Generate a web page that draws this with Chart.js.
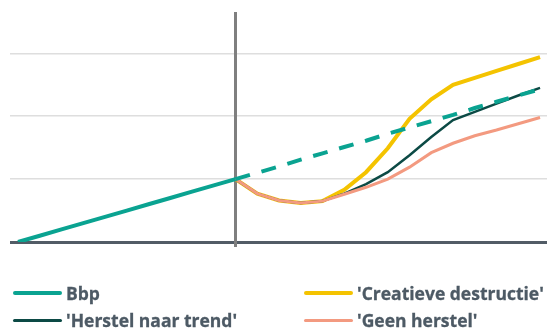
<!DOCTYPE html>
<html>
<head>
<meta charset="utf-8">
<script src="https://cdn.jsdelivr.net/npm/chart.js@4"></script>
<style>
  html, body { margin: 0; padding: 0; background: #fff; }
  #wrap { position: absolute; left: 0; top: 0; width: 547px; height: 260px; }
  .legend { position: absolute; left: 0; top: 0; width: 547px; height: 328px; pointer-events: none;
            font-family: "Open Sans", "Noto Sans", sans-serif; font-weight: 700; font-size: 17.5px; color: #4d5a65;
            -webkit-text-stroke: 0.3px #4d5a65; }
  .item { position: absolute; display: flex; align-items: center; white-space: nowrap; }
  .swatch { display: inline-block; width: 49px; border-radius: 2px; margin-right: 4px; }
</style>
</head>
<body>
<div id="wrap"><canvas id="chart"></canvas></div>
<div class="legend" id="legend"></div>
<script>
// periods on the x axis (index 10 = crisis moment)
const periods = [0, 1, 2, 3, 4, 5, 6, 7, 8, 9, 10, 11, 12, 13, 14, 15, 16, 17, 18, 19, 20, 21, 22, 23, 24];
const crisisIndex = 10;

// realised gdp up to the crisis, then the trend path
const bbp = [0, 0.1, 0.2, 0.3, 0.4, 0.5, 0.6, 0.7, 0.8, 0.9, 1.0];
const bbpTrend = [1.10, 1.20, 1.31, 1.41, 1.51, 1.61, 1.72, 1.82, 1.92, 2.02, 2.13, 2.23, 2.33, 2.43];

// scenarios, from the crisis onwards
const creatieveDestructie = [1.0, 0.77, 0.66, 0.62, 0.65, 0.83, 1.11, 1.49, 1.96, 2.27, 2.50, 2.61, 2.72, 2.83, 2.94];
const herstelNaarTrend   = [1.0, 0.77, 0.66, 0.62, 0.65, 0.77, 0.92, 1.11, 1.38, 1.67, 1.94, 2.07, 2.20, 2.33, 2.45];
const geenHerstel        = [1.0, 0.77, 0.66, 0.62, 0.65, 0.76, 0.87, 1.00, 1.19, 1.42, 1.57, 1.69, 1.78, 1.88, 1.98];

const yGridValues = [1, 2, 3];

const colors = {
  bbp: "#0aa391",
  creatief: "#f4c300",
  trend: "#0c4a45",
  geen: "#f39a80"
};

function toPoints(values, start) {
  return values.map((v, i) => ({ x: periods[start + i], y: v }));
}

const bbpPoints = toPoints(bbp.concat(bbpTrend), 0);

// grey marker line at the crisis moment
const crisisLine = {
  id: "crisisLine",
  beforeDatasetsDraw(chart) {
    const { ctx, chartArea, scales } = chart;
    const x = scales.x.getPixelForValue(periods[crisisIndex]);
    ctx.save();
    ctx.strokeStyle = "#7f7f7f";
    ctx.lineWidth = 3;
    ctx.beginPath();
    ctx.moveTo(x, chartArea.top);
    ctx.lineTo(x, chartArea.bottom + 5);
    ctx.stroke();
    ctx.restore();
  }
};

new Chart(document.getElementById("chart"), {
  type: "line",
  data: {
    datasets: [
      {
        label: "Bbp",
        data: bbpPoints,
        borderColor: colors.bbp,
        borderWidth: 4,
        segment: {
          borderDash: ctx => ctx.p0DataIndex >= crisisIndex ? [15, 12] : undefined
        },
        order: 0
      },
      {
        label: "'Creatieve destructie'",
        data: toPoints(creatieveDestructie, crisisIndex),
        borderColor: colors.creatief,
        borderWidth: 4,
        order: 3
      },
      {
        label: "'Herstel naar trend'",
        data: toPoints(herstelNaarTrend, crisisIndex),
        borderColor: colors.trend,
        borderWidth: 2.5,
        order: 2
      },
      {
        label: "'Geen herstel'",
        data: toPoints(geenHerstel, crisisIndex),
        borderColor: colors.geen,
        borderWidth: 3,
        order: 1
      }
    ]
  },
  options: {
    responsive: true,
    maintainAspectRatio: false,
    animation: false,
    layout: { padding: { left: 10, right: 0, top: 12, bottom: 18 } },
    elements: { point: { radius: 0 }, line: { tension: 0 } },
    plugins: { legend: { display: false }, tooltip: { enabled: false } },
    scales: {
      x: {
        type: "linear",
        display: false,
        min: -0.368,
        max: 24.32
      },
      y: {
        min: 0,
        max: 3.657,
        border: { display: false },
        ticks: { display: false, stepSize: 1 },
        grid: {
          drawTicks: false,
          color: ctx => ctx.tick.value === 0 ? "#525c66"
            : yGridValues.includes(ctx.tick.value) ? "#dedede" : "rgba(0,0,0,0)",
          lineWidth: ctx => ctx.tick.value === 0 ? 3 : 1.5
        }
      }
    }
  },
  plugins: [crisisLine]
});

// two-column legend underneath
const legendItems = [
  { label: "Bbp", color: colors.bbp, width: 4, left: 13, top: 293 },
  { label: "'Creatieve destructie'", color: colors.creatief, width: 4, left: 304, top: 293 },
  { label: "'Herstel naar trend'", color: colors.trend, width: 3, left: 13, top: 320 },
  { label: "'Geen herstel'", color: colors.geen, width: 3, left: 304, top: 320 }
];
const legend = document.getElementById("legend");
legendItems.forEach(it => {
  legend.innerHTML += `<div class="item" style="left:${it.left}px;top:${it.top - 11}px;height:22px">
    <span class="swatch" style="height:${it.width}px;background:${it.color}"></span>${it.label}</div>`;
});
</script>
</body>
</html>
